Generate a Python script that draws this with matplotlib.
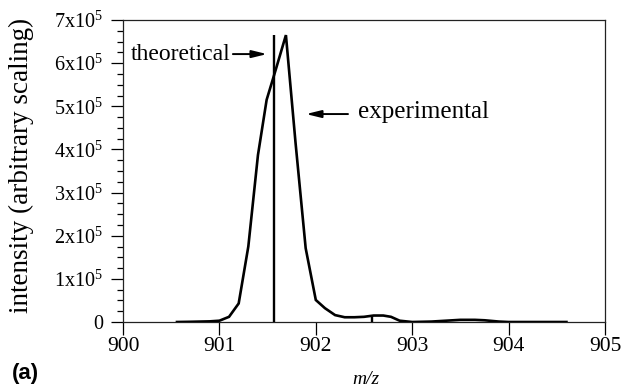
import matplotlib
matplotlib.use("Agg")
import matplotlib.pyplot as plt
from matplotlib.ticker import MultipleLocator, FixedLocator

plt.rcParams['font.family'] = ['Liberation Serif', 'DejaVu Serif']
plt.rcParams['mathtext.fontset'] = 'custom'
plt.rcParams['mathtext.rm'] = 'Liberation Serif'

# measured spectrum (m/z, intensity in units of 1e5)
mz = [900.56, 900.70, 900.80, 900.90, 901.00, 901.10, 901.20, 901.30, 901.40,
      901.49, 901.59, 901.69, 901.79, 901.895, 902.00, 902.095, 902.20, 902.30,
      902.40, 902.50, 902.60, 902.70, 902.78, 902.87, 903.00, 903.20, 903.35,
      903.50, 903.65, 903.75, 903.90, 904.00, 904.30, 904.60]
intensity = [0.0, 0.005, 0.01, 0.015, 0.03, 0.12, 0.43, 1.75, 3.87,
             5.15, 5.89, 6.65, 4.15, 1.71, 0.51, 0.32, 0.16, 0.11,
             0.11, 0.12, 0.15, 0.15, 0.12, 0.03, 0.0, 0.01, 0.03,
             0.05, 0.05, 0.04, 0.01, 0.0, 0.0, 0.0]

# theoretical isotope lines
theo_mz = [901.57, 902.58]
theo_int = [6.65, 0.15]

yticks = [0, 1, 2, 3, 4, 5, 6, 7]
ytick_labels = ['0'] + [r'$\mathregular{%dx10^5}$' % k for k in yticks[1:]]
xticks = [900, 901, 902, 903, 904, 905]

fig = plt.figure(figsize=(6.24, 3.89), dpi=100)
ax = fig.add_axes([123 / 624, 1 - 322 / 389, 482 / 624, 302 / 389])

scale = 1e5
ax.plot(mz, [v * scale for v in intensity], color='black', lw=1.9,
        solid_joinstyle='miter', zorder=3)
ax.vlines(theo_mz, 0, [v * scale for v in theo_int], color='black', lw=1.7, zorder=3)

ax.set_xlim(900, 905)
ax.set_ylim(0, 7 * scale)
ax.xaxis.set_major_locator(FixedLocator(xticks))
ax.set_xticklabels([str(t) for t in xticks])
ax.yaxis.set_major_locator(FixedLocator([t * scale for t in yticks]))
ax.set_yticklabels(ytick_labels)
ax.yaxis.set_minor_locator(MultipleLocator(0.25 * scale))

for s in ax.spines.values():
    s.set_linewidth(0.9)
    s.set_color('#222222')

ax.tick_params(axis='x', direction='out', length=9, width=0.9, pad=2, labelsize=15.5)
ax.tick_params(axis='y', which='major', direction='out', length=8.5, width=0.9,
               pad=6, labelsize=14.5)
ax.tick_params(axis='y', which='minor', direction='out', length=4.5, width=0.9)

# labels for the two traces
ax.text(901.12, 6.19 * scale, 'theoretical', ha='right', va='center', fontsize=17)
ax.annotate('', xy=(901.494, 6.21 * scale), xytext=(901.14, 6.21 * scale),
            arrowprops=dict(arrowstyle='-|>,head_length=0.9,head_width=0.22',
                            color='black', lw=1.4, shrinkA=0, shrinkB=0))
ax.text(902.44, 4.87 * scale, 'experimental', ha='left', va='center', fontsize=18)
ax.annotate('', xy=(901.898, 4.82 * scale), xytext=(902.334, 4.82 * scale),
            arrowprops=dict(arrowstyle='-|>,head_length=0.9,head_width=0.22',
                            color='black', lw=1.4, shrinkA=0, shrinkB=0))

fig.text(21 / 624, 1 - 165 / 389, 'intensity (arbitrary scaling)', rotation=90,
         ha='center', va='center', fontsize=19.5)
fig.text(366 / 624, 1 - 380 / 389, 'm/z', ha='center', va='center',
         fontsize=14, style='italic')
fig.text(12 / 624, 1 - 373 / 389, '(a)', ha='left', va='center', fontsize=16,
         fontweight='bold', family='Liberation Sans')

fig.savefig('out.png', dpi=100)
